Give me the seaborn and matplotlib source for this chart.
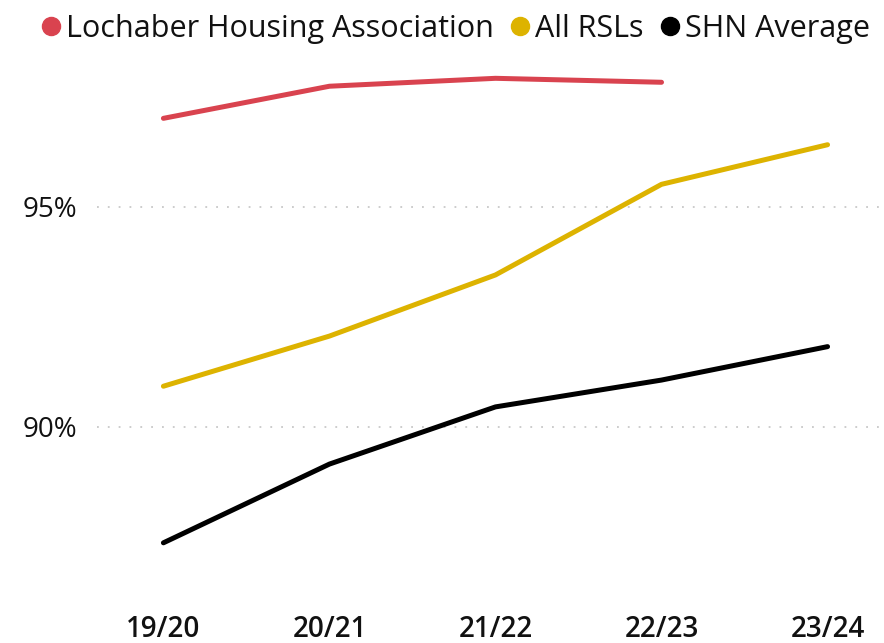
import numpy as np
import pandas as pd
import matplotlib
matplotlib.use("Agg")
import matplotlib.pyplot as plt
from matplotlib.lines import Line2D
import seaborn as sns

years = ["19/20", "20/21", "21/22", "22/23", "23/24"]
lochaber = [97.01, 97.74, 97.92, 97.83, np.nan]
all_rsls = [90.92, 92.06, 93.45, 95.51, 96.41]
shn_avg = [87.36, 89.15, 90.45, 91.06, 91.82]
series_names = ["Lochaber Housing Association", "All RSLs", "SHN Average"]
colors = ["#D9434F", "#DDB300", "#000000"]
yticks = [90, 95]
ytick_labels = ["90%", "95%"]

rows = []
for name, vals in zip(series_names, [lochaber, all_rsls, shn_avg]):
    for y, v in zip(years, vals):
        rows.append({"Year": y, "Value": v, "Series": name})
df = pd.DataFrame(rows)

sns.set_theme(style="white")
plt.rcParams["font.family"] = ["Open Sans", "DejaVu Sans"]

fig = plt.figure(figsize=(8.84, 6.43), dpi=100)
ax = fig.add_axes([97 / 884, 1 - 600 / 643, 1 - 97 / 884, (600 - 55) / 643])

sns.lineplot(data=df, x="Year", y="Value", hue="Series", hue_order=series_names,
             palette=colors, linewidth=3.6, sort=False, ax=ax, legend=False,
             solid_capstyle="round")

ax.set_xlim(-0.40, 4.34)
ax.set_ylim(86.06, 98.45)
ax.set_yticks(yticks)
ax.set_yticklabels(ytick_labels)
ax.set_xlabel("")
ax.set_ylabel("")
for s in ax.spines.values():
    s.set_visible(False)
ax.grid(axis="y", color="#C8C8C8", linestyle=(0, (1, 5)), linewidth=1.3)
ax.grid(axis="x", visible=False)
ax.tick_params(axis="y", length=0, labelsize=20, pad=14, labelcolor="#111111")
ax.tick_params(axis="x", length=0, labelsize=20, pad=11, labelcolor="#111111")
for lab in ax.get_xticklabels():
    lab.set_fontweight("semibold")

handles = [Line2D([0], [0], marker="o", linestyle="none", markersize=13,
                  markerfacecolor=c, markeredgecolor=c) for c in colors]
leg = fig.legend(handles, series_names, loc="center right",
                 bbox_to_anchor=(870 / 884, 1 - 29 / 643), ncol=3, frameon=False,
                 fontsize=22, handletextpad=0.15, columnspacing=0.5,
                 handlelength=0.7, borderaxespad=0, borderpad=0)
for t in leg.get_texts():
    t.set_color("#111111")

fig.savefig("out.png", dpi=100)
